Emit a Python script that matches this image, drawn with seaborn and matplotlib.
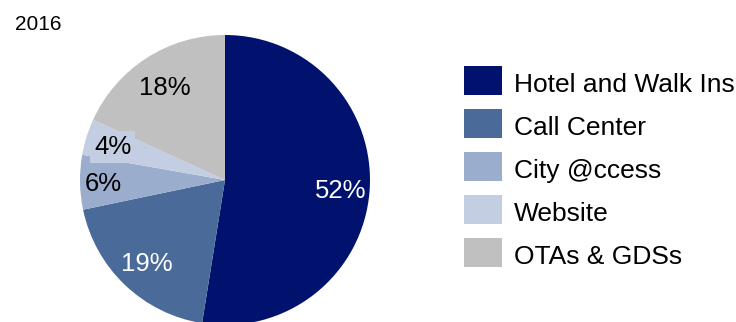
import numpy as np
import matplotlib
matplotlib.use("Agg")
import matplotlib.pyplot as plt
import matplotlib.patches as mpatches
import matplotlib.transforms as mtransforms
import seaborn as sns

# Booking channel shares, 2016
channels = ["Hotel and Walk Ins", "Call Center", "City @ccess", "Website", "OTAs & GDSs"]
shares = [52, 19, 6, 4, 18]
year_label = "2016"

colors = ["#00126E", "#4A6A9A", "#9AADCC", "#C4CEE2", "#C0C0C0"]
label_colors = ["white", "white", "black", "black", "black"]
label_dist = [0.80, 0.78, 0.84, 0.81, 0.77]

sns.set_theme(style="white")
plt.rcParams["font.family"] = ["Liberation Sans", "DejaVu Sans"]
plt.rcParams["text.color"] = "black"

W, H = 736, 322
fig = plt.figure(figsize=(W / 100, H / 100), dpi=100)
ax = fig.add_axes([80 / W, -3 / H, 290 / W, 290 / H])

wedges, _ = ax.pie(shares, colors=colors, startangle=90, counterclock=False,
                   radius=1.0, wedgeprops=dict(linewidth=0))
for w in wedges:
    w.set_clip_on(False)
ax.set_xlim(-1, 1)
ax.set_ylim(-1, 1)
ax.set_aspect("equal")
ax.axis("off")

# percentage labels inside each slice, baseline shifted so digits sit centred
shift = mtransforms.ScaledTranslation(0, -9 / 100, fig.dpi_scale_trans)
for i, (w, v) in enumerate(zip(wedges, shares)):
    mid = np.deg2rad((w.theta1 + w.theta2) / 2)
    r = label_dist[i]
    kw = {}
    if channels[i] == "Website":
        kw["bbox"] = dict(boxstyle="square,pad=0.15", fc=colors[i], ec="none")
    ax.text(r * np.cos(mid), r * np.sin(mid), f"{v}%", ha="center", va="baseline",
            fontsize=18.5, color=label_colors[i], transform=ax.transData + shift, **kw)

fig.text(15 / W, 1 - 30 / H, year_label, fontsize=15, ha="left", va="baseline")

# legend: swatch + label per channel
for i, (name, c) in enumerate(zip(channels, colors)):
    top = 66 + 43 * i
    fig.patches.append(mpatches.Rectangle((464 / W, 1 - (top + 29) / H), 38 / W, 29 / H,
                                          transform=fig.transFigure, facecolor=c,
                                          edgecolor="none"))
    fig.text(514 / W, 1 - (top + 26) / H, name, fontsize=19, ha="left", va="baseline")

fig.savefig("out.png", dpi=100)
